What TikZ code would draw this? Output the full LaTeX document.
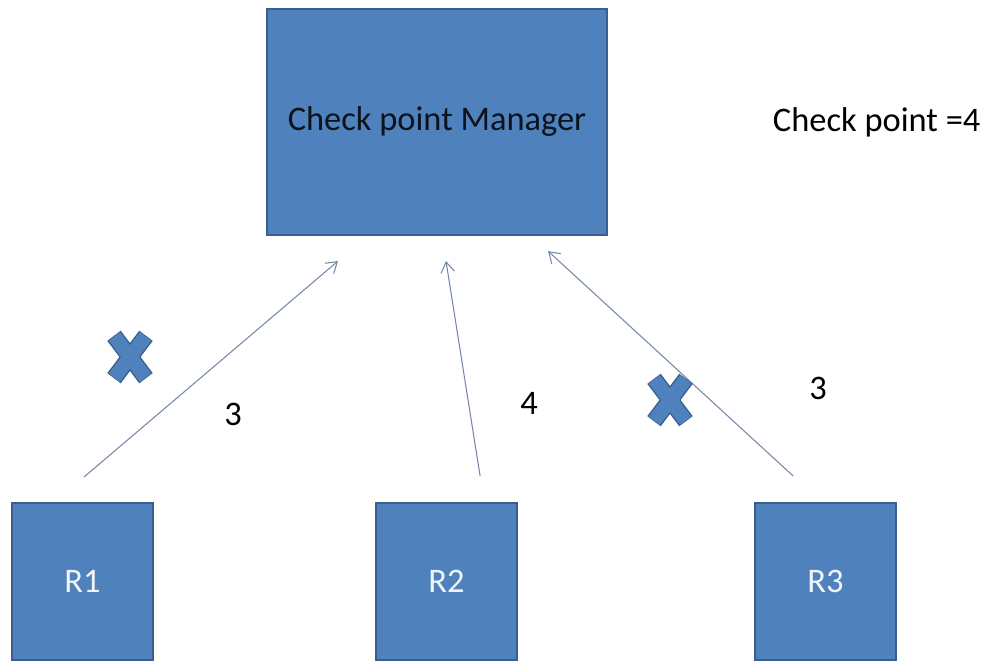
\documentclass[tikz,border=0pt]{standalone}
\usepackage{fontspec}
\setmainfont{Carlito}
\usetikzlibrary{arrows.meta}
\definecolor{boxblue}{HTML}{4F81BD}
\definecolor{boxedge}{HTML}{3A5F8F}
\definecolor{linkgray}{HTML}{7588AA}
\tikzset{
  blockbox/.style={draw=boxedge, line width=1.5pt, fill=boxblue, minimum width=3.525cm, minimum height=3.925cm, text=white!92!boxblue},
  link/.style={draw=linkgray, line width=0.75pt, -{Straight Barb[length=2.6mm,width=3.4mm]}},
  failmark/.pic={
    \draw[boxedge, line width=12pt] (-0.4,-0.53) -- (0.4,0.53) (-0.4,0.53) -- (0.4,-0.53);
    \draw[boxblue, line width=10pt] (-0.39,-0.515) -- (0.39,0.515) (-0.39,0.515) -- (0.39,-0.515);
  }
}
\begin{document}
\begin{tikzpicture}[font=\fontsize{24.5}{29}\selectfont]
\useasboundingbox (0,0) rectangle (24.55,-16.525);
\node[blockbox, minimum width=8.5cm, minimum height=5.65cm, text=black!85!boxblue] (manager) at (10.925,-3.05) {Check point Manager};
\node[anchor=west] (cpval) at (19.2,-3.05) {Check point =4};

\node[blockbox] (r1) at (2.0625,-14.5375) {R1};
\node[blockbox] (r2) at (11.1625,-14.5375) {R2};
\node[blockbox] (r3) at (20.6375,-14.5375) {R3};

\draw[link] ([shift={(0.04,0.625)}]r1.north) -- ([shift={(-2.475,-0.625)}]manager.south);
\draw[link] ([shift={(0.84,0.65)}]r2.north) -- ([shift={(0.225,-0.625)}]manager.south);
\draw[link] ([shift={(-0.81,0.65)}]r3.north) -- ([shift={(2.775,-0.375)}]manager.south);

\node (lab1) at (5.825,-10.35) {3};
\node (lab2) at (13.225,-10.075) {4};
\node (lab3) at (20.45,-9.7) {3};

\pic at (3.25,-8.925) {failmark};
\pic at (16.75,-10.0) {failmark};
\end{tikzpicture}
\end{document}
